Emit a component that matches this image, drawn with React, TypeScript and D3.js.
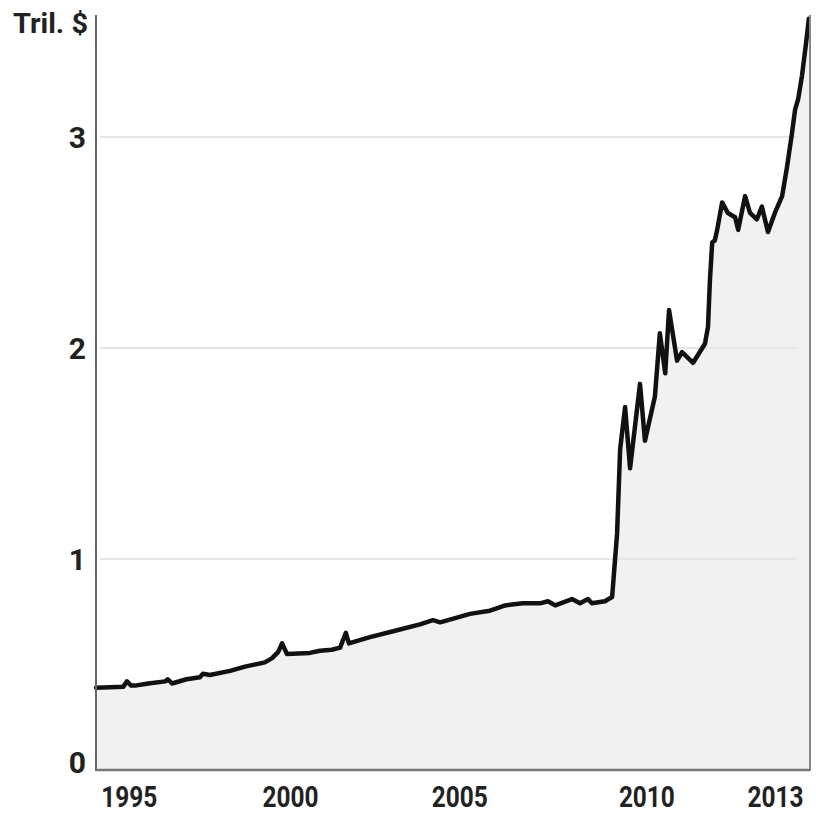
import React from "react";
import * as d3 from "d3";

const years = [
  1995.13, 1995.5, 1995.84, 1995.94, 1996.05, 1996.15, 1996.5, 1996.94, 1997.01, 1997.12,
  1997.5, 1997.85, 1997.93, 1998.11, 1998.64, 1999.03, 1999.55, 1999.74, 1999.9, 2000.0,
  2000.13, 2000.73, 2000.99, 2001.3, 2001.52, 2001.67, 2001.75, 2002.3, 2002.96, 2003.61,
  2003.95, 2004.14, 2004.53, 2004.92, 2005.44, 2005.6, 2005.84, 2006.3, 2006.75, 2006.96,
  2007.15, 2007.59, 2007.8, 2008.01, 2008.11, 2008.45, 2008.64, 2008.77, 2008.85, 2008.98,
  2009.11, 2009.37, 2009.5, 2009.76, 2009.89, 2010.03, 2010.13, 2010.34, 2010.47, 2010.76,
  2011.07, 2011.15, 2011.2, 2011.26, 2011.33, 2011.39, 2011.52, 2011.67, 2011.86, 2011.94,
  2012.12, 2012.25, 2012.43, 2012.56, 2012.72, 2012.9, 2013.09, 2013.22, 2013.35, 2013.43,
  2013.51, 2013.61, 2013.72, 2013.79,
];
const values = [
  0.39, 0.392, 0.394, 0.42, 0.4, 0.4, 0.41, 0.42, 0.43, 0.41,
  0.43, 0.44, 0.456, 0.45, 0.47, 0.49, 0.51, 0.53, 0.56, 0.6,
  0.55, 0.555, 0.565, 0.57, 0.58, 0.65, 0.6, 0.63, 0.66, 0.69,
  0.71, 0.7, 0.72, 0.74, 0.755, 0.765, 0.78, 0.79, 0.79, 0.8,
  0.78, 0.81, 0.79, 0.81, 0.79, 0.8, 0.82, 1.12, 1.52, 1.72,
  1.43, 1.83, 1.56, 1.77, 2.07, 1.88, 2.18, 1.94, 1.98, 1.93,
  2.02, 2.1, 2.32, 2.5, 2.51, 2.56, 2.69, 2.64, 2.62, 2.56,
  2.72, 2.64, 2.61, 2.67, 2.55, 2.64, 2.72, 2.86, 3.02, 3.13,
  3.18, 3.29, 3.45, 3.56,
];

const xTickLabels = ["1995", "2000", "2005", "2010", "2013"];
const xTickPositions = [1996.0, 2000.22, 2004.65, 2009.55, 2012.92];
const yTicks = [0, 1, 2, 3];
const yGrid = [1, 2, 3];
const unitLabel = "Tril. $";

export default function App() {
  const W = 816;
  const H = 815;
  const left = 96;
  const right = 810;
  const top = 15;
  const bottom = 770;

  const x = d3.scaleLinear().domain([1995.13, 2013.82]).range([left, right]);
  const y = d3.scaleLinear().domain([0, (bottom - top) / 211]).range([bottom, top]);

  const pts = years.map((t, i) => [t, values[i]] as [number, number]);
  const line = d3.line<[number, number]>().x((d) => x(d[0])).y((d) => y(d[1]));
  const area = d3
    .area<[number, number]>()
    .x((d) => x(d[0]))
    .y0(y(0))
    .y1((d) => y(d[1]));

  const font = "Roboto, 'DejaVu Sans', sans-serif";

  return (
    <svg
      width={W}
      height={H}
      style={{ position: "absolute", left: 0, top: 0, background: "#fff" }}
    >
      <rect x={0} y={0} width={W} height={H} fill="#fff" />
      <path d={area(pts) || ""} fill="#f1f1f1" />
      {yGrid.map((v) => (
        <line
          key={v}
          x1={left + 4}
          x2={797}
          y1={y(v)}
          y2={y(v)}
          stroke="#e6e6e6"
          strokeWidth={2}
        />
      ))}
      <path
        d={line(pts) || ""}
        fill="none"
        stroke="#111"
        strokeWidth={4.5}
        strokeLinejoin="round"
        strokeLinecap="round"
      />
      <line x1={left} x2={left} y1={top} y2={bottom + 1} stroke="#666" strokeWidth={2} />
      <line x1={right} x2={right} y1={top} y2={bottom + 1} stroke="#888" strokeWidth={2} />
      <line x1={left} x2={right} y1={bottom} y2={bottom} stroke="#777" strokeWidth={2.5} />
      {yTicks.map((v) => (
        <text
          key={v}
          x={86}
          y={v === 0 ? 773 : y(v) + 11}
          textAnchor="end"
          fontFamily={font}
          fontWeight={700}
          fontSize={30}
          fill="#222"
        >
          {v}
        </text>
      ))}
      <text
        x={13}
        y={33}
        fontFamily={font}
        fontWeight={700}
        fontSize={27}
        fill="#222"
        textLength={75}
        lengthAdjust="spacingAndGlyphs"
      >
        {unitLabel}
      </text>
      {xTickLabels.map((lab, i) => (
        <text
          key={lab}
          x={x(xTickPositions[i])}
          y={807}
          textAnchor="middle"
          fontFamily={font}
          fontWeight={700}
          fontSize={30}
          fill="#222"
          textLength={56}
          lengthAdjust="spacingAndGlyphs"
        >
          {lab}
        </text>
      ))}
    </svg>
  );
}
